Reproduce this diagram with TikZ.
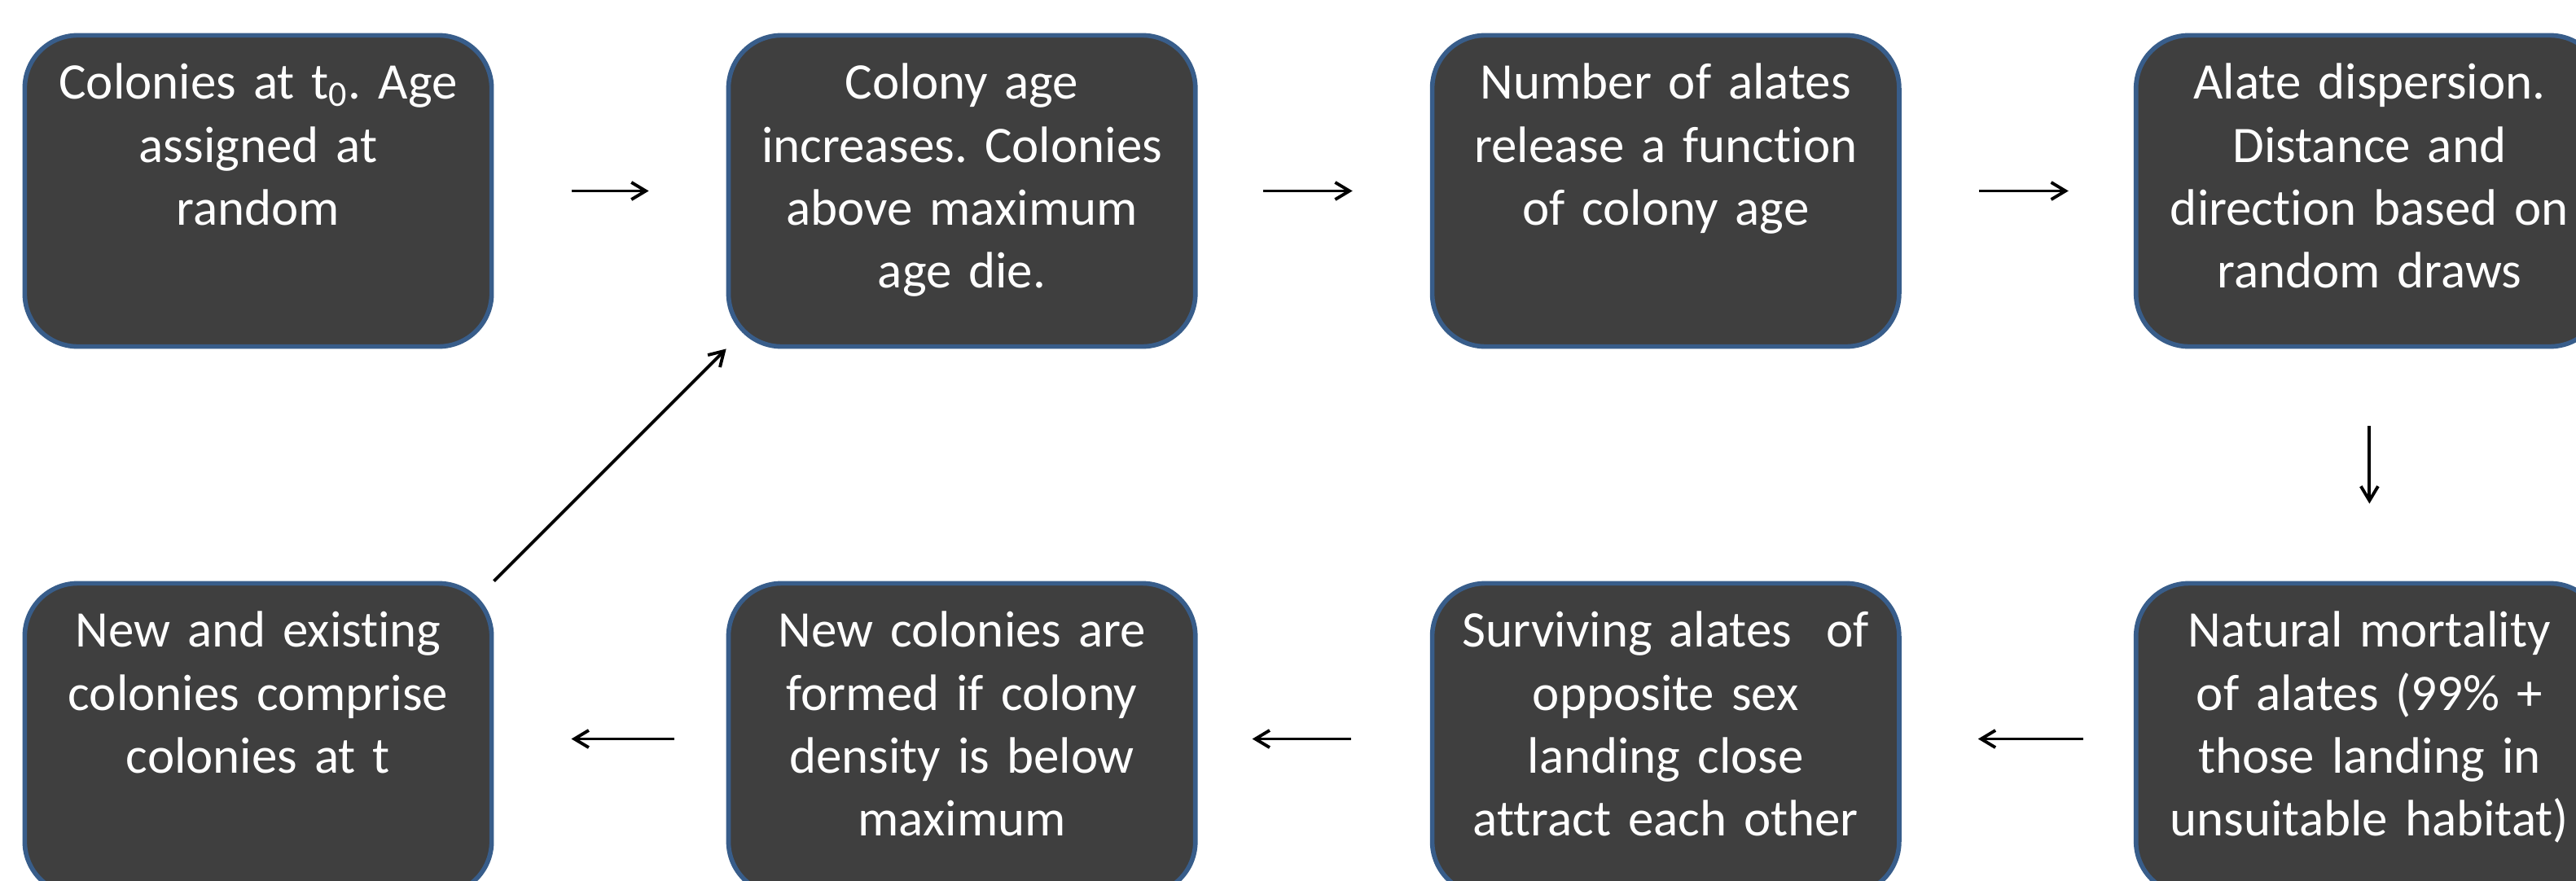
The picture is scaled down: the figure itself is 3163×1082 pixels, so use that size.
\documentclass[tikz,border=0pt]{standalone}
\usepackage{fontspec}
\setmainfont{Carlito}[Ligatures=NoCommon]
\frenchspacing
\usetikzlibrary{positioning,arrows.meta}

\definecolor{boxfill}{HTML}{3F3F3F}
\definecolor{boxline}{HTML}{385D8A}

\tikzset{
  stage/.style={draw=boxline, line width=1.6pt, fill=boxfill, text=white,
    rounded corners=0.65cm, inner sep=0pt, text width=5.73cm, align=center,
    text height=0.784cm, text depth=3.036cm,
    font=\fontsize{17.9}{22}\selectfont},
  flow/.style={->, line width=1.1pt}
}

\begin{document}
\begin{tikzpicture}[x=0.01cm, y=-0.01cm, node distance=2.85cm,
  >={Straight Barb[length=5pt,width=6pt]}]
\useasboundingbox (0,0) rectangle (3163,1082);

% top row
\node[stage] (start) at (317,234.5) {Colonies at t\textsubscript{0}. Age\\assigned at\\random};
\node[stage, right=of start] (aging) {Colony age\\increases. Colonies\\above maximum\\age die.};
\node[stage, right=of aging] (release) {Number of alates\\release a function\\of colony age};
\node[stage, right=of release] (dispersal) {Alate dispersion.\\Distance and\\direction based on\\random draws};

% bottom row
\node[stage, below=of dispersal] (mortality) {Natural mortality\\of alates (99\% +\\those landing in\\unsuitable habitat)};
\node[stage, left=of mortality] (mating) {Surviving alates~ of\\opposite sex\\landing close\\attract each other};
\node[stage, left=of mating] (founding) {New colonies are\\formed if colony\\density is below\\maximum};
\node[stage, left=of founding] (census) {New and existing\\colonies comprise\\colonies at t};

\draw[flow, shorten <=0.95cm, shorten >=0.95cm] (start) -- (aging);
\draw[flow, shorten <=0.8cm, shorten >=0.95cm] (aging) -- (release);
\draw[flow, shorten <=0.95cm, shorten >=0.8cm] (release) -- (dispersal);
\draw[flow, shorten <=0.95cm, shorten >=0.95cm] (dispersal) -- (mortality);
\draw[flow, shorten <=0.62cm, shorten >=0.94cm] (mortality) -- (mating);
\draw[flow, shorten <=0.97cm, shorten >=0.67cm] (mating) -- (founding);
\draw[flow, shorten <=0.64cm, shorten >=0.95cm] (founding) -- (census);
\draw[flow] (census.north east) -- (aging.south west);

\end{tikzpicture}
\end{document}
